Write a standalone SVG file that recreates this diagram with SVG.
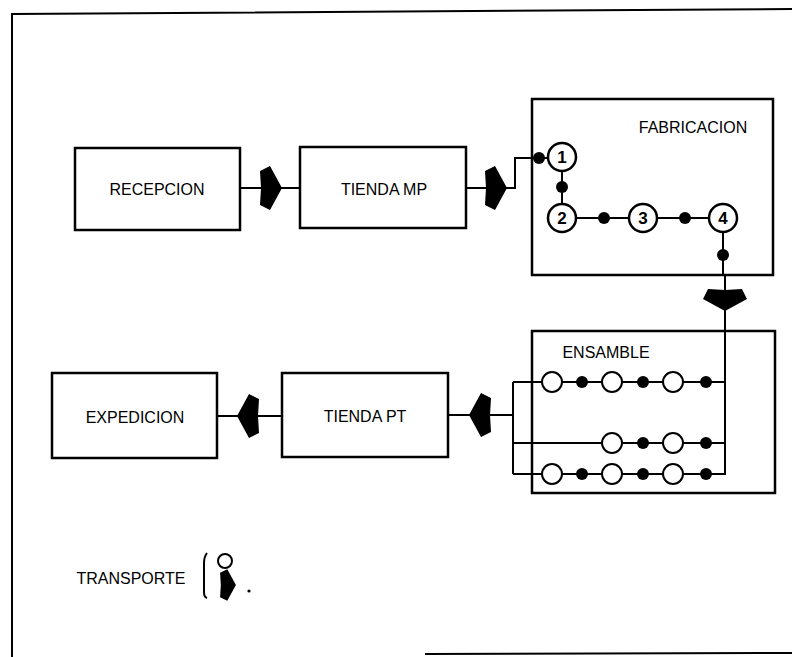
<svg xmlns="http://www.w3.org/2000/svg" width="792" height="657" viewBox="0 0 792 657">
<defs>
<style>
.box{fill:none;stroke:#000;stroke-width:2.5}
.ln{fill:none;stroke:#000;stroke-width:2}
.lbl{font-family:"Liberation Sans",Arial,sans-serif;font-size:16px;fill:#000;text-anchor:middle;dominant-baseline:central}
.num{font-family:"Liberation Sans",Arial,sans-serif;font-size:17px;font-weight:bold;fill:#000;text-anchor:middle;dominant-baseline:central}
.st{fill:#fff;stroke:#000;stroke-width:2.5}
.op{fill:#fff;stroke:#000;stroke-width:2}
.dot{fill:#000}
</style>
<path id="arr" d="M-11,-17 L-1,-22 L11,0 L-1,22 L-11,17 L-10,0 Z" fill="#000"/>
</defs>
<rect width="792" height="657" fill="#fff"/>
<g id="frame" class="ln" stroke-width="2.5">
<path d="M12,657 L12,14 L792,9"/>
<path d="M425,654 L792,653"/>
</g>
<g id="connectors">
<path class="ln" d="M240,188 L300,188"/>
<path class="ln" d="M466,188 L515,188 L515,158 L550,158"/>
<path class="ln" d="M562,157 L562,218 L723,218 L723,275"/>
<path class="ln" d="M725,275 L725,475"/>
<path class="ln" d="M448,415 L513,415"/>
<path class="ln" d="M513,382 L513,474"/>
<path class="ln" d="M513,382 L725,382"/>
<path class="ln" d="M513,443 L725,443"/>
<path class="ln" d="M513,474 L725,474"/>
<path class="ln" d="M217,416 L282,416"/>
<use href="#arr" transform="translate(271,188)"/>
<use href="#arr" transform="translate(496,188)"/>
<use href="#arr" transform="translate(725,300) rotate(90)"/>
<use href="#arr" transform="translate(480,415) rotate(180)"/>
<use href="#arr" transform="translate(248,416) rotate(180)"/>
</g>
<g id="recepcion"><rect class="box" x="75" y="148" width="165" height="82"/><text class="lbl" x="157" y="189">RECEPCION</text></g>
<g id="tienda-mp"><rect class="box" x="300" y="147" width="166" height="81"/><text class="lbl" x="384" y="189">TIENDA MP</text></g>
<g id="fabricacion">
<rect class="box" x="532" y="99" width="241" height="176"/>
<text class="lbl" x="693" y="127">FABRICACION</text>
<circle class="dot" cx="539" cy="158" r="6"/>
<circle class="st" cx="562" cy="157" r="14"/><text class="num" x="562" y="157">1</text>
<circle class="dot" cx="562" cy="187" r="6"/>
<circle class="st" cx="562" cy="218" r="14"/><text class="num" x="562" y="218">2</text>
<circle class="dot" cx="604" cy="218" r="6"/>
<circle class="st" cx="643" cy="218" r="14"/><text class="num" x="643" y="218">3</text>
<circle class="dot" cx="685" cy="218" r="6"/>
<circle class="st" cx="723" cy="218" r="14"/><text class="num" x="723" y="218">4</text>
<circle class="dot" cx="723" cy="255" r="6"/>
</g>
<g id="ensamble">
<rect class="box" x="532" y="331" width="243" height="162"/>
<text class="lbl" x="606" y="352">ENSAMBLE</text>
<circle class="op" cx="552" cy="382" r="10"/><circle class="dot" cx="582" cy="382" r="6"/>
<circle class="op" cx="612" cy="382" r="10"/><circle class="dot" cx="643" cy="382" r="6"/>
<circle class="op" cx="673" cy="382" r="10"/><circle class="dot" cx="706" cy="382" r="6"/>
<circle class="op" cx="612" cy="443" r="10"/><circle class="dot" cx="643" cy="443" r="6"/>
<circle class="op" cx="673" cy="443" r="10"/><circle class="dot" cx="706" cy="443" r="6"/>
<circle class="op" cx="552" cy="474" r="10"/><circle class="dot" cx="582" cy="474" r="6"/>
<circle class="op" cx="612" cy="474" r="10"/><circle class="dot" cx="643" cy="474" r="6"/>
<circle class="op" cx="673" cy="474" r="10"/><circle class="dot" cx="706" cy="474" r="6"/>
</g>
<g id="tienda-pt"><rect class="box" x="282" y="373" width="166" height="84"/><text class="lbl" x="365" y="416">TIENDA PT</text></g>
<g id="expedicion"><rect class="box" x="52" y="373" width="165" height="85"/><text class="lbl" x="135" y="417">EXPEDICION</text></g>
<g id="legend">
<text class="lbl" x="131" y="578">TRANSPORTE</text>
<path class="ln" d="M207,553 Q204,557 204,563 L204,592 Q204,597 207,598"/>
<circle class="op" cx="225" cy="561" r="7"/>
<use href="#arr" transform="translate(228,585) scale(0.72)"/>
<circle class="dot" cx="249" cy="591" r="1.6"/>
</g>
</svg>
